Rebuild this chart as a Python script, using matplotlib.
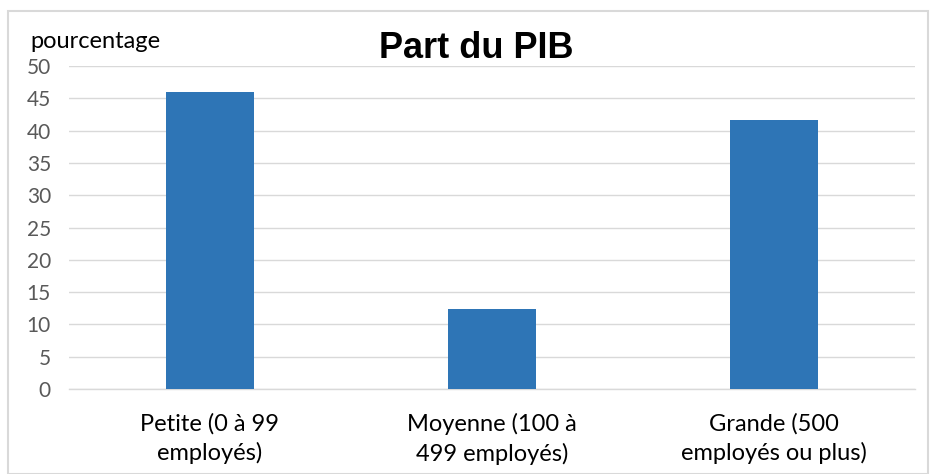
import matplotlib
matplotlib.use("Agg")
import matplotlib.pyplot as plt
from matplotlib.patches import Rectangle

categories = ["Petite (0 à 99\nemployés)", "Moyenne (100 à\n499 employés)", "Grande (500\nemployés ou plus)"]
values = [46.0, 12.4, 41.6]
yticks = [0, 5, 10, 15, 20, 25, 30, 35, 40, 45, 50]

plt.rcParams['font.family'] = ['Lato', 'DejaVu Sans']

fig = plt.figure(figsize=(9.36, 4.74), dpi=100)
fig.patches.append(Rectangle((8/936, 0.0), (928-8)/936, 1 - 11/474, transform=fig.transFigure,
                             fill=False, edgecolor="#D9D9D9", linewidth=1.5))

ax = fig.add_axes([69/936, 1 - 389/474, (915-69)/936, (389-66)/474])
x = list(range(len(categories)))
ax.bar(x, values, width=0.315, color="#2E75B6", zorder=3)
ax.set_xlim(-0.5, 2.5)
ax.set_ylim(0, 50)
ax.set_yticks(yticks)
ax.set_yticklabels([str(t) for t in yticks], color="#595959", fontsize=15)
ax.set_xticks(x)
ax.set_xticklabels(categories, fontsize=17, color="black", linespacing=1.45)
ax.tick_params(axis='both', length=0)
ax.tick_params(axis='y', pad=13)
ax.tick_params(axis='x', pad=17)
ax.grid(axis='y', color="#D9D9D9", linewidth=1, zorder=0)
for s in ["top", "right", "left"]:
    ax.spines[s].set_visible(False)
ax.spines["bottom"].set_color("#D9D9D9")
ax.spines["bottom"].set_linewidth(1)

fig.text(476/936, 1 - 49/474, "Part du PIB", ha="center", va="center",
         fontsize=26, fontweight="bold", family="Liberation Sans")
fig.text(30/936, 1 - 41/474, "pourcentage", ha="left", va="center", fontsize=17)

fig.savefig("out.png", dpi=100)
